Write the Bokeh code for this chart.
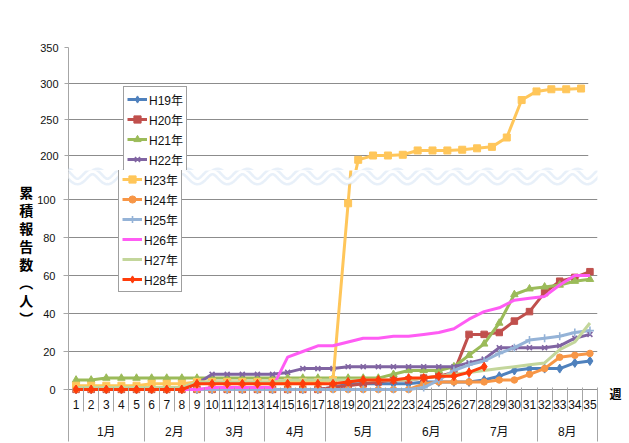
import numpy as np
from bokeh.plotting import figure
from bokeh.models import (Range1d, FixedTicker, Legend, LegendItem, LinearAxis,
                          PolyAnnotation)
from bokeh.layouts import column
from bokeh.embed import file_html
from bokeh.resources import INLINE

# ---------------- data ----------------
weeks = [1, 2, 3, 4, 5, 6, 7, 8, 9, 10, 11, 12, 13, 14, 15, 16, 17, 18,
         19, 20, 21, 22, 23, 24, 25, 26, 27, 28, 29, 30, 31, 32, 33, 34, 35]
months = ["1月", "2月", "3月", "4月", "5月", "6月", "7月", "8月"]
month_first_week = [1, 6, 10, 14, 18, 23, 27, 32]
month_last_week = [5, 9, 13, 17, 22, 26, 31, 35]
upper_ticks = [200, 250, 300, 350]
lower_ticks = [0, 20, 40, 60, 80, 100]
y_title_chars = ["累", "積", "報", "告", "数", "︵", "人", "︶"]
x_title = "週"

series_names = ["H19年", "H20年", "H21年", "H22年", "H23年",
                "H24年", "H25年", "H26年", "H27年", "H28年"]
h19 = [0, 0, 0, 0, 0, 0, 0, 0, 0, 0, 0, 0, 0, 0, 0, 0, 0, 1, 3, 3, 3, 3, 3, 4, 4, 4, 4, 5, 7, 10, 11, 11, 11, 14, 15]
h20 = [0, 0, 0, 0, 0, 0, 0, 0, 0, 0, 0, 0, 0, 0, 0, 0, 0, 1, 2, 3, 4, 5, 5, 6, 7, 9, 29, 29, 30, 36, 41, 51, 57, 59, 62]
h21 = [5, 5, 6, 6, 6, 6, 6, 6, 6, 6, 6, 6, 6, 6, 6, 6, 6, 6, 6, 6, 6, 8, 10, 10, 10, 12, 18, 24, 35, 50, 53, 54, 55, 57, 58]
h22 = [0, 0, 0, 0, 0, 0, 0, 0, 3, 8, 8, 8, 8, 8, 9, 11, 11, 11, 12, 12, 12, 12, 12, 12, 12, 12, 14, 16, 22, 22, 22, 22, 23, 27, 29]
h23 = [2, 2, 2, 2, 2, 3, 3, 3, 4, 4, 4, 4, 4, 4, 4, 4, 4, 5, 98, 194, 200, 200, 201, 207, 207, 207, 208, 210, 212, 225, 277, 289, 292, 292, 293]
h24 = [0, 0, 0, 0, 0, 0, 0, 0, 0, 0, 0, 0, 0, 0, 0, 0, 0, 0, 0, 0, 0, 0, 0, 3, 4, 4, 4, 4, 5, 5, 8, 11, 17, 18, 19]
h25 = [0, 0, 0, 0, 0, 0, 0, 0, 0, 0, 0, 0, 0, 0, 0, 0, 0, 0, 0, 0, 0, 0, 0, 1, 5, 10, 13, 15, 19, 22, 26, 27, 28, 30, 31]
h26 = [0, 0, 0, 0, 0, 0, 0, 0, 0, 1, 1, 1, 1, 1, 17, 20, 23, 23, 25, 27, 27, 28, 28, 29, 30, 32, 37, 41, 43, 47, 48, 49, 55, 60, 60]
h27 = [1, 1, 1, 1, 1, 1, 1, 1, 4, 4, 4, 4, 4, 4, 5, 5, 5, 5, 5, 5, 5, 5, 5, 6, 7, 8, 9, 10, 11, 12, 13, 14, 21, 25, 35]
h28 = [0, 0, 0, 0, 0, 0, 0, 0, 3, 3, 3, 3, 3, 3, 3, 3, 3, 3, 4, 5, 5, 5, 6, 6, 7, 7, 9, 12]
series_values = [h19, h20, h21, h22, h23, h24, h25, h26, h27, h28]

# ---------------- styles ----------------
styles = [
    dict(color="#4F81BD", marker="diamond", size=9),
    dict(color="#C0504D", marker="square", size=6.5),
    dict(color="#9BBB59", marker="triangle", size=7.5),
    dict(color="#8064A2", marker="x", size=7),
    dict(color="#FFC65A", marker="square", size=7),
    dict(color="#F79646", marker="circle", size=6.5),
    dict(color="#95B3D7", marker="cross", size=8),
    dict(color="#FF5CF4", marker=None, size=0),
    dict(color="#C3D69B", marker=None, size=0),
    dict(color="#FF3C0A", marker="diamond", size=9),
]

NUM_FONT = "'Liberation Sans', 'Noto Sans CJK JP', sans-serif"
CJK_FONT = "'Noto Sans CJK JP', sans-serif"
GRID = "#8C8C8C"
AXIS = "#A6A6A6"
TXT = "#111111"
WAVE = "#B2CCEA"
PAGE_W = 629
SPLIT_Y = 170
X0, X1 = 0.5, 35.5
UPPER = dict(left=63, right=583, top=47, bottom=SPLIT_Y, ctop=0, cbottom=SPLIT_Y)
LOWER = dict(left=68, right=597, top=SPLIT_Y, bottom=393, ctop=SPLIT_Y, cbottom=443)
LEG_LEFT, LEG_BOTTOM = 118, 292


def make_fig(box, y0, y1, has_x):
    p = figure(frame_width=box["right"] - box["left"],
               frame_height=box["bottom"] - box["top"],
               min_border_left=box["left"],
               min_border_right=PAGE_W - box["right"],
               min_border_top=box["top"] - box["ctop"],
               min_border_bottom=box["cbottom"] - box["bottom"],
               x_range=Range1d(X0, X1), y_range=Range1d(y0, y1),
               x_axis_location="below" if has_x else None,
               output_backend="svg", toolbar_location=None, title=None)
    p.background_fill_color = "white"
    p.border_fill_color = "white"
    p.outline_line_color = None
    for g in p.xgrid:
        g.visible = False
    fx = lambda px: X0 + (px - box["left"]) / (box["right"] - box["left"]) * (X1 - X0)
    fy = lambda py: y0 + (box["bottom"] - py) / (box["bottom"] - box["top"]) * (y1 - y0)
    return p, fx, fy


def style_yaxis(p, ticks, tick_out, standoff):
    t = FixedTicker(ticks=ticks)
    ax = p.yaxis[0]
    ax.ticker = t
    ax.axis_line_color = AXIS
    ax.major_tick_line_color = AXIS
    ax.major_tick_out = tick_out
    ax.major_tick_in = 0
    ax.minor_tick_line_color = None
    ax.major_label_standoff = standoff
    ax.major_label_text_font = NUM_FONT
    ax.major_label_text_font_size = "11px"
    ax.major_label_text_color = TXT
    g = p.ygrid[0]
    g.ticker = t
    g.grid_line_color = GRID
    g.grid_line_width = 1
    return ax


def add_series(p):
    items = []
    for name, vals, st in zip(series_names, series_values, styles):
        xs = weeks[:len(vals)]
        rs = [p.line(xs, vals, line_color=st["color"], line_width=3, line_join="round")]
        mk = st["marker"]
        if mk in ("x", "cross"):
            rs.append(p.scatter(xs, vals, marker=mk, size=st["size"],
                                line_color=st["color"], line_width=1.6))
        elif mk:
            rs.append(p.scatter(xs, vals, marker=mk, size=st["size"],
                                fill_color=st["color"], line_color=st["color"]))
        items.append(LegendItem(label=name, renderers=rs))
    return items


def add_wave(p, fx, fy):
    wx = np.linspace(17, 625, 700)
    k = 2 * np.pi / 30
    wy = 176 - 5 * np.cos(k * (wx - 2))
    slope = 5 * k * np.sin(k * (wx - 2))
    nrm = np.sqrt(1 + slope ** 2)
    nx, ny = -slope / nrm, 1 / nrm
    h = 2.7
    pxs = np.concatenate([wx + h * nx, (wx - h * nx)[::-1]])
    pys = np.concatenate([wy + h * ny, (wy - h * ny)[::-1]])
    p.add_layout(PolyAnnotation(xs=[fx(v) for v in pxs], ys=[fy(v) for v in pys],
                                fill_color="white", fill_alpha=1,
                                line_color=WAVE, line_width=2.6))


def add_legend(p, location, items):
    lg = Legend(items=items, location=location,
                orientation="vertical", padding=3, margin=0, spacing=2,
                glyph_width=20, glyph_height=18, label_height=18, label_standoff=2,
                label_text_font=NUM_FONT, label_text_font_size="12px",
                label_text_color=TXT, border_line_color="#404040",
                border_line_width=1, background_fill_color="white",
                background_fill_alpha=1)
    p.add_layout(lg)


# ---------------- upper part (H23 scale) ----------------
u_end = 350
u_start = u_end - (UPPER["bottom"] - UPPER["top"]) / 0.72
pu, ufx, ufy = make_fig(UPPER, u_start, u_end, False)
style_yaxis(pu, upper_ticks, 4, 6)
items_u = add_series(pu)
add_wave(pu, ufx, ufy)
# legend rows H19..H22 sit in the upper part; the box continues in the lower part
add_legend(pu, (LEG_LEFT - UPPER["left"], UPPER["bottom"] - 172), items_u[:4])

# ---------------- lower part ----------------
lo_start = -(LOWER["bottom"] - 389) / 1.9
lo_end = lo_start + (LOWER["bottom"] - LOWER["top"]) / 1.9
pl, lfx, lfy = make_fig(LOWER, lo_start, lo_end, True)
yax = style_yaxis(pl, lower_ticks, 5, 8)
yax.axis_label = "\n".join(y_title_chars + ["\u3000", " ", "\u3000"])
yax.axis_label_orientation = "horizontal"
yax.axis_label_standoff = 1
yax.axis_label_text_font = CJK_FONT
yax.axis_label_text_font_size = "14px"
yax.axis_label_text_font_style = "bold"
yax.axis_label_text_color = "black"
yax.axis_label_text_line_height = 0.9
items_l = add_series(pl)


def label_axis(ax, ticks, overrides, standoff, size="12px"):
    ax.ticker = FixedTicker(ticks=ticks)
    if overrides is not None:
        ax.major_label_overrides = overrides
    ax.axis_line_color = None
    ax.major_tick_line_color = None
    ax.minor_tick_line_color = None
    ax.major_tick_in = 0
    ax.major_tick_out = 0
    ax.minor_tick_in = 0
    ax.minor_tick_out = 0
    ax.major_label_standoff = standoff
    ax.major_label_text_font = NUM_FONT
    ax.major_label_text_font_size = size
    ax.major_label_text_color = TXT


def sep_axis(bounds, tick_in):
    ax = LinearAxis(ticker=FixedTicker(ticks=bounds),
                    major_label_overrides={b: "" for b in bounds})
    ax.axis_line_color = None
    ax.major_tick_line_color = AXIS
    ax.major_tick_in = tick_in
    ax.major_tick_out = 0
    ax.minor_tick_line_color = None
    ax.minor_tick_in = 0
    ax.minor_tick_out = 0
    ax.major_label_standoff = 0
    ax.major_label_text_font_size = "0px"
    return ax


# week labels (nearest the frame)
label_axis(pl.xaxis[0], weeks, None, 6)
# week separators, drawn upward across the week-label row
week_bounds = [w - 0.5 for w in weeks] + [weeks[-1] + 0.5]
pl.add_layout(sep_axis(week_bounds, 24), "below")
# month labels
m_centers = [(a + b) / 2 for a, b in zip(month_first_week, month_last_week)]
m_centers = [int(c) if c == int(c) else c for c in m_centers]
mlab = LinearAxis()
label_axis(mlab, m_centers, {c: m for c, m in zip(m_centers, months)}, 13)
pl.add_layout(mlab, "below")
# month separators, drawn upward across both rows
month_bounds = [a - 0.5 for a in month_first_week] + [month_last_week[-1] + 0.5]
pl.add_layout(sep_axis(month_bounds, 52), "below")

# x-axis title on the right, at the level of the week labels
rax = LinearAxis(ticker=FixedTicker(ticks=[lo_start]),
                 major_label_overrides={lo_start: x_title})
rax.axis_line_color = None
rax.major_tick_line_color = None
rax.minor_tick_line_color = None
rax.major_tick_in = 0
rax.major_tick_out = 0
rax.minor_tick_out = 0
rax.major_label_standoff = 12
rax.major_label_text_font = CJK_FONT
rax.major_label_text_font_size = "12px"
rax.major_label_text_font_style = "bold"
rax.major_label_text_color = "black"
pl.add_layout(rax, "right")

add_wave(pl, lfx, lfy)
add_legend(pl, (LEG_LEFT - LOWER["left"], LOWER["bottom"] - LEG_BOTTOM), items_l[4:])

layout = column(pu, pl, spacing=0)
open("out.html", "w").write(file_html(layout, INLINE))
